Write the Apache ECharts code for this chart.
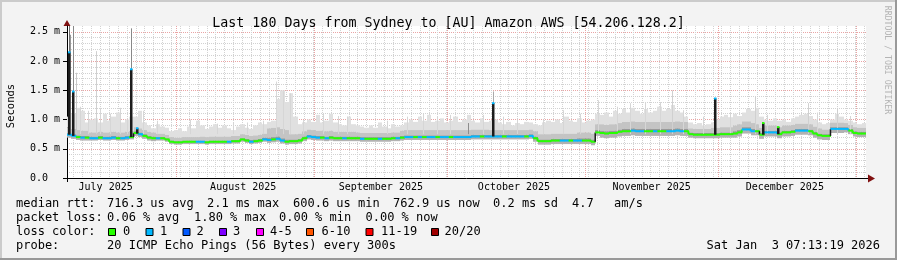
<!DOCTYPE html>
<html><head><meta charset="utf-8">
<script src="https://cdn.jsdelivr.net/npm/echarts@6/dist/echarts.min.js"></script>
<style>html,body{margin:0;padding:0;background:#f3f3f3}#c{width:897px;height:260px}</style>
</head><body><div id="c"></div><script>
// ---------- data (days since start of the 180-day window) ----------
const titleText = 'Last 180 Days from Sydney to [AU] Amazon AWS [54.206.128.2]';
const monthLabels = ['July 2025','August 2025','September 2025','October 2025','November 2025','December 2025'];
const monthLabelDays = [8.70, 39.70, 70.70, 100.70, 131.70, 161.70];
const monthStartDays = [24.70, 55.70, 85.70, 116.70, 146.70, 177.70];
const yTickValues = [0, 0.5, 1.0, 1.5, 2.0, 2.5];
const yTickLabels = ['0.0  ', '0.5 m', '1.0 m', '1.5 m', '2.0 m', '2.5 m'];

// median rtt per day (ms)
const median = [
 0.74,0.72,0.70,0.69,0.69,0.68,0.68,0.69,0.68,0.68,
 0.69,0.68,0.68,0.69,0.70,0.77,0.75,0.72,0.69,0.68,
 0.68,0.68,0.66,0.62,0.61,0.61,0.62,0.62,0.62,0.62,
 0.62,0.61,0.62,0.62,0.62,0.62,0.62,0.63,0.63,0.66,
 0.64,0.62,0.63,0.64,0.66,0.65,0.66,0.67,0.64,0.62,
 0.63,0.63,0.64,0.68,0.71,0.70,0.69,0.69,0.68,0.69,
 0.68,0.68,0.68,0.68,0.68,0.68,0.67,0.67,0.67,0.67,
 0.67,0.67,0.67,0.68,0.68,0.69,0.70,0.70,0.70,0.70,
 0.70,0.70,0.70,0.70,0.70,0.70,0.70,0.70,0.70,0.70,
 0.70,0.71,0.71,0.71,0.71,0.71,0.71,0.71,0.71,0.71,
 0.71,0.71,0.71,0.71,0.72,0.68,0.63,0.63,0.63,0.64,
 0.64,0.64,0.64,0.64,0.64,0.64,0.64,0.64,0.62,0.78,
 0.77,0.76,0.77,0.77,0.79,0.80,0.80,0.81,0.80,0.80,
 0.80,0.80,0.80,0.80,0.80,0.80,0.80,0.81,0.80,0.80,
 0.75,0.74,0.74,0.74,0.74,0.74,0.74,0.75,0.75,0.75,
 0.76,0.78,0.83,0.83,0.80,0.80,0.74,0.78,0.78,0.78,
 0.75,0.78,0.78,0.79,0.81,0.81,0.81,0.80,0.76,0.73,
 0.72,0.72,0.84,0.84,0.84,0.84,0.81,0.77,0.76,0.76];
// packet-loss class per day (index into lossColors)
const loss = [
 1,1,0,1,0,1,1,0,1,1, 1,0,1,1,0,0,1,0,0,0, 1,0,0,0,0,0,0,0,0,1,
 1,0,0,0,0,0,1,0,0,0, 0,1,0,0,1,1,0,1,1,0, 0,0,0,0,1,1,1,0,1,0,
 0,0,1,0,0,0,1,0,0,0, 1,0,0,0,1,0,1,1,0,1, 0,1,1,0,1,1,0,1,1,1,
 1,1,1,0,1,1,1,1,0,1, 1,1,1,0,1,0,0,0,0,0, 0,1,1,0,1,1,0,0,0,0,
 0,0,0,0,0,0,0,1,1,1, 0,0,1,0,0,1,1,1,1,0, 0,0,0,0,0,0,0,0,0,0,
 0,0,1,1,1,0,0,1,1,1, 0,0,0,0,1,1,1,0,0,0, 0,0,1,1,1,1,0,0,0,0];
// top of the light smoke per day (ms)
const smokeHi = [
 1.05,1.10,1.20,1.15,0.95,1.00,1.02,0.95,1.10,0.98,
 1.05,1.12,0.95,1.00,1.05,1.05,1.15,0.95,0.90,0.85,
 0.92,0.88,0.86,0.80,0.82,0.85,0.80,0.88,0.85,0.98,
 0.90,0.84,0.88,0.92,0.86,0.90,0.85,0.82,0.88,0.92,
 0.86,0.84,0.90,0.95,0.92,0.96,0.98,1.35,1.50,1.30,
 1.45,1.05,0.92,0.95,1.00,0.96,1.08,0.95,0.98,1.10,
 0.95,0.92,0.90,1.05,0.92,0.90,0.88,0.86,0.90,0.86,
 0.95,0.88,0.85,0.92,0.88,0.90,0.95,1.00,0.96,1.05,
 0.98,1.08,0.96,0.98,1.02,0.95,0.98,1.05,0.96,1.00,
 1.08,0.98,0.95,1.02,0.96,0.98,1.00,0.95,0.92,0.96,
 0.90,0.94,0.92,0.96,0.95,0.92,0.90,0.95,0.98,0.96,
 1.00,0.94,1.05,0.98,0.96,1.02,0.95,0.98,1.00,1.10,
 1.08,1.12,1.05,1.15,1.10,1.18,1.12,1.20,1.15,1.10,
 1.18,1.12,1.15,1.22,1.15,1.18,1.25,1.15,1.12,1.05,
 0.95,0.92,0.94,0.90,0.92,0.95,1.00,1.05,1.08,1.04,
 1.10,1.06,1.12,1.18,1.15,1.20,1.05,1.00,0.98,1.02,
 0.98,1.00,0.96,1.02,1.05,1.08,1.10,1.06,1.00,0.95,
 0.92,0.94,1.00,1.10,1.05,1.00,0.98,0.95,0.92,0.94];
// thickness of the smoke layers around the median, per 5-day block (ms)
const smokeCore5d  = [0.03,0.03,0.03,0.03,0.02,0.02,0.02,0.02,0.03,0.04,0.03,0.03,0.03,0.03,0.03,0.03,0.03,0.03,
                      0.03,0.03,0.03,0.03,0.03,0.04,0.04,0.04,0.04,0.04,0.03,0.03,0.04,0.03,0.03,0.03,0.03,0.03];
const smokeAbove5d = [0.12,0.10,0.10,0.10,0.08,0.08,0.09,0.09,0.10,0.20,0.12,0.12,0.11,0.10,0.10,0.12,0.12,0.12,
                      0.12,0.11,0.11,0.12,0.12,0.14,0.15,0.16,0.16,0.16,0.10,0.12,0.14,0.12,0.12,0.12,0.11,0.10];
const smokeBelow5d = [0.05,0.04,0.04,0.05,0.04,0.04,0.04,0.04,0.04,0.05,0.05,0.05,0.05,0.05,0.05,0.05,0.05,0.05,
                      0.05,0.05,0.05,0.06,0.06,0.06,0.08,0.08,0.08,0.08,0.06,0.06,0.07,0.07,0.07,0.07,0.07,0.06];
// dense (black) spikes: day, base, top, dot loss class
const spikeDay  = [0.38, 1.30, 14.45, 15.80, 95.96, 145.96, 156.70, 160.10];
const spikeBase = [0.74, 0.72, 0.70, 0.76, 0.71, 0.74, 0.74, 0.75];
const spikeTop  = [2.15, 1.48, 1.86, 0.85, 1.28, 1.36, 0.94, 0.87];
const spikeLoss = [1, 1, 1, 1, 1, 1, 0, 0];
// thin smoke outliers: day, top, grey level
const thinDay  = [0.38, 0.74, 1.30, 2.14, 6.53, 14.45, 95.96, 47.0, 136.3, 155.1, 166.9, 173.5,
  2.93, 4.73, 7.43, 9.69, 11.94, 13.52, 17.12, 20.27, 27.71, 33.79, 37.40, 40.55, 44.15, 48.66, 50.24,
  53.17, 57.67, 61.05, 63.08, 72.09, 76.59, 80.20, 83.35, 86.28, 90.30, 93.71, 98.22, 101.37, 107.23,
  111.74, 115.57, 119.62, 123.90, 126.83, 130.21, 133.59, 138.77, 143.27, 149.36, 157.69, 168.96, 176.39];
const thinTop  = [2.60, 2.45, 2.60, 1.80, 2.17, 2.56, 1.48, 1.65, 1.50, 1.39, 1.28, 1.20,
  1.22, 1.15, 1.20, 1.10, 1.20, 1.00, 1.15, 0.98, 1.00, 0.93, 0.95, 0.95, 0.98, 1.48, 1.45,
  0.99, 1.10, 1.06, 1.05, 0.98, 1.05, 1.10, 1.06, 1.08, 0.94, 1.08, 1.05, 1.00, 1.00,
  1.16, 1.10, 1.33, 1.22, 1.28, 1.30, 1.30, 1.16, 1.05, 1.12, 1.08, 1.12, 1.06];
const thinGrey = [112, 150, 136, 200, 208, 136, 170, 216, 208, 208, 208, 208,
  214, 214, 214, 214, 214, 214, 214, 214, 214, 214, 214, 214, 214, 214, 214,
  214, 214, 214, 214, 214, 214, 214, 214, 214, 140, 214, 214, 214, 214,
  214, 214, 214, 214, 214, 214, 214, 214, 214, 214, 214, 214, 214];

const lossLabels = ['0','1','2','3','4-5','6-10','11-19','20/20'];
const lossColors = ['#26ff00','#00b8ff','#0059ff','#7e00ff','#ff00ff','#ff5500','#ff0000','#a00000'];

// ---------- build ----------
const F = '"DejaVu Sans Mono", monospace';
const N = median.length;
const blk = i => Math.min(smokeAbove5d.length - 1, Math.floor(i / 5));
const lo = median.map((m, i) => m - smokeBelow5d[blk(i)]);
const core = median.map((m, i) => Math.min(m + smokeCore5d[blk(i)], smokeHi[i]));
const mid = median.map((m, i) => Math.max(core[i], Math.min(m + smokeAbove5d[blk(i)], smokeHi[i])));
const hi = smokeHi.map((h, i) => Math.max(h, mid[i]));
const minorDays = []; for (let d = 1.5; d < 180; d += 2) minorDays.push(d);

function band(lower, upper, color) {
  return {
    type: 'custom', xAxisIndex: 0, yAxisIndex: 1, silent: true, z: 1, clip: true,
    data: lower.map((l, i) => [i, l, upper[i]]), encode: { x: 0, y: [1, 2] },
    renderItem: (p, api) => {
      const i = api.value(0);
      const x0 = Math.round(api.coord([i, 0])[0]), x1 = Math.round(api.coord([i + 1, 0])[0]);
      const yt = api.coord([i, api.value(2)])[1], yb = api.coord([i, api.value(1)])[1];
      return { type: 'rect', shape: { x: x0, y: yt, width: x1 - x0, height: yb - yt }, style: { fill: color } };
    }
  };
}

const series = [
  band(mid, hi, '#e0e0e0'),
  {
    type: 'custom', xAxisIndex: 0, yAxisIndex: 1, silent: true, z: 2, clip: true,
    data: thinDay.map((d, i) => [d, thinTop[i]]), encode: { x: 0, y: 1 },
    renderItem: (p, api) => {
      const i = p.dataIndex, g = thinGrey[i];
      const a = api.coord([thinDay[i], thinTop[i]]), b = api.coord([thinDay[i], 0.75]);
      const x = Math.round(a[0]) + 0.5;
      return { type: 'line', shape: { x1: x, y1: a[1], x2: x, y2: b[1] }, style: { stroke: `rgb(${g},${g},${g})`, lineWidth: 1 } };
    }
  },
  band(core, mid, '#c4c4c4'),
  band(median, core, '#999999'),
  band(lo, median, '#b2b2b2'),
  {
    type: 'custom', xAxisIndex: 0, yAxisIndex: 1, silent: true, z: 5, clip: true,
    data: median.map((m, i) => [i, m]), encode: { x: 0, y: 1 },
    renderItem: (p, api) => {
      const i = p.dataIndex, m = median[i], n = i < N - 1 ? median[i + 1] : m;
      const a = api.coord([i, m]), b = api.coord([i + 1, m]), c = api.coord([i + 1, n]);
      const col = lossColors[loss[i]];
      const big = Math.abs(c[1] - b[1]) > 3;
      return { type: 'group', children: [
        { type: 'line', shape: { x1: a[0], y1: a[1], x2: b[0] + 0.5, y2: b[1] }, style: { stroke: col, lineWidth: 2 } },
        { type: 'line', shape: { x1: b[0], y1: b[1], x2: c[0], y2: c[1] }, style: { stroke: big ? '#1a1a1a' : col, lineWidth: big ? 1.5 : 2 } }
      ] };
    }
  },
  {
    type: 'custom', xAxisIndex: 0, yAxisIndex: 1, silent: true, z: 6, clip: true,
    data: spikeDay.map((d, i) => [d, spikeTop[i]]), encode: { x: 0, y: 1 },
    renderItem: (p, api) => {
      const i = p.dataIndex;
      const a = api.coord([spikeDay[i], spikeTop[i]]), b = api.coord([spikeDay[i], spikeBase[i]]);
      const x = Math.round(a[0]) - 1;
      return { type: 'group', children: [
        { type: 'rect', shape: { x, y: a[1], width: 2.5, height: b[1] - a[1] }, style: { fill: '#1c1c1c' } },
        { type: 'rect', shape: { x, y: a[1] - 1, width: 2.5, height: 2 }, style: { fill: lossColors[spikeLoss[i]] } }
      ] };
    }
  }
];

const gridLineGrey = { color: '#d2d2d2', type: [1, 1], width: 1 };
const gridLineRed = { color: '#e9a4a4', type: [1, 1], width: 1 };

const graphic = [];
graphic.push({ type: 'rect', silent: true, shape: { x: 0, y: 0, width: 897, height: 2 }, style: { fill: '#cbcbcb' } });
graphic.push({ type: 'rect', silent: true, shape: { x: 0, y: 0, width: 2, height: 260 }, style: { fill: '#cbcbcb' } });
graphic.push({ type: 'rect', silent: true, shape: { x: 0, y: 258, width: 897, height: 2 }, style: { fill: '#999999' } });
graphic.push({ type: 'rect', silent: true, shape: { x: 895, y: 0, width: 2, height: 260 }, style: { fill: '#999999' } });
graphic.push({ type: 'polygon', silent: true, shape: { points: [[63.5, 26], [70.5, 26], [67, 20]] }, style: { fill: '#801010' } });
graphic.push({ type: 'line', silent: true, shape: { x1: 866, y1: 178.5, x2: 869, y2: 178.5 }, style: { stroke: '#000', lineWidth: 1 } });
graphic.push({ type: 'polygon', silent: true, shape: { points: [[868, 174.5], [868, 182.5], [875, 178.5]] }, style: { fill: '#801010' } });
graphic.push({ type: 'line', silent: true, shape: { x1: 67.5, y1: 178, x2: 67.5, y2: 182 }, style: { stroke: '#000', lineWidth: 1 } });
function txt(x, y, text, size, align) {
  return { type: 'text', x, y, silent: true,
    style: { text, fontFamily: F, fontSize: size, fill: '#000', verticalAlign: 'middle', align: align || 'left' } };
}
const yName = txt(11, 106, 'Seconds', 10.5, 'center'); yName.rotation = Math.PI / 2; graphic.push(yName);
graphic.push({ type: 'text', x: 887, y: 60, rotation: -Math.PI / 2, silent: true,
  style: { text: 'RRDTOOL / TOBI OETIKER', fontFamily: F, fontSize: 8.2, fill: '#b4b4b4', align: 'center', verticalAlign: 'middle' } });
const LS = 12;
[['median rtt:', 16], ['716.3 us avg', 107], ['2.1 ms max', 207], ['600.6 us min', 293], ['762.9 us now', 393],
 ['0.2 ms sd', 493], ['4.7', 572], ['am/s', 614]].forEach(([t, x]) => graphic.push(txt(x, 204, t, LS)));
[['packet loss:', 16], ['0.06 % avg', 107], ['1.80 % max', 194], ['0.00 % min', 279], ['0.00 % now', 365.5]]
  .forEach(([t, x]) => graphic.push(txt(x, 218, t, LS)));
graphic.push(txt(16, 232, 'loss color:', LS));
const boxX = [108, 145.5, 182.5, 219, 256, 306, 365.5, 431];
const lblX = [123, 160, 196.5, 233, 270, 321.5, 381, 444.5];
lossLabels.forEach((l, i) => {
  graphic.push({ type: 'rect', silent: true, shape: { x: boxX[i] + 0.5, y: 228.5, width: 7, height: 7 }, style: { fill: lossColors[i], stroke: '#000', lineWidth: 1 } });
  graphic.push(txt(lblX[i], 232, l, LS));
});
graphic.push(txt(16, 246, 'probe:', LS));
graphic.push(txt(107, 246, '20 ICMP Echo Pings (56 Bytes) every 300s', LS));
graphic.push(txt(880, 246, 'Sat Jan  3 07:13:19 2026', LS, 'right'));

const option = {
  animation: false,
  backgroundColor: '#f3f3f3',
  title: { text: titleText, left: 'center', top: 12,
    textStyle: { fontFamily: F, fontSize: 13.3, fontWeight: 'normal', color: '#000' } },
  grid: { left: 67, right: 31, top: 26, bottom: 82, show: true, backgroundColor: '#ffffff', borderWidth: 0 },
  xAxis: [
    { type: 'value', min: 0, max: 180, position: 'bottom',
      axisLine: { show: true, onZero: false, lineStyle: { color: '#000', width: 1 } },
      axisTick: { show: false },
      axisLabel: { customValues: monthLabelDays, fontFamily: F, fontSize: 10, color: '#000', margin: 4,
        formatter: v => { const k = monthLabelDays.findIndex(d => Math.abs(d - v) < 0.01); return k >= 0 ? monthLabels[k] : ''; } },
      splitLine: { show: false } },
    { type: 'value', min: 0, max: 180, position: 'bottom', axisLine: { show: false }, axisLabel: { show: false },
      axisTick: { show: false, customValues: minorDays }, splitLine: { show: true, lineStyle: gridLineGrey } },
    { type: 'value', min: 0, max: 180, position: 'bottom', axisLine: { show: false }, axisLabel: { show: false },
      axisTick: { show: false, customValues: monthStartDays }, splitLine: { show: true, lineStyle: gridLineRed } }
  ],
  yAxis: [
    { type: 'value', min: 0, max: 2.6, interval: 0.1, position: 'left', axisLine: { show: false },
      axisTick: { show: false }, axisLabel: { show: false },
      splitLine: { show: true, showMinLine: false, showMaxLine: false, lineStyle: gridLineGrey } },
    { type: 'value', min: 0, max: 2.6, position: 'left',
      axisLine: { show: true, onZero: false, lineStyle: { color: '#000', width: 1 } },
      axisTick: { show: true, length: 4, customValues: yTickValues, lineStyle: { color: '#000' } },
      axisLabel: { customValues: yTickValues, fontFamily: F, fontSize: 10, color: '#000', margin: 7,
        formatter: v => { const k = yTickValues.findIndex(t => Math.abs(t - v) < 1e-6); return k >= 0 ? yTickLabels[k] : ''; } },
      splitLine: { show: false } },
    { type: 'value', min: 0, max: 2.6, interval: 0.5, position: 'left', axisLine: { show: false },
      axisTick: { show: false }, axisLabel: { show: false },
      splitLine: { show: true, showMinLine: false, showMaxLine: false, lineStyle: gridLineRed } }
  ],
  series,
  graphic
};
const chart = echarts.init(document.getElementById('c'), null, { renderer: 'canvas' });
chart.setOption(option);
</script></body></html>
